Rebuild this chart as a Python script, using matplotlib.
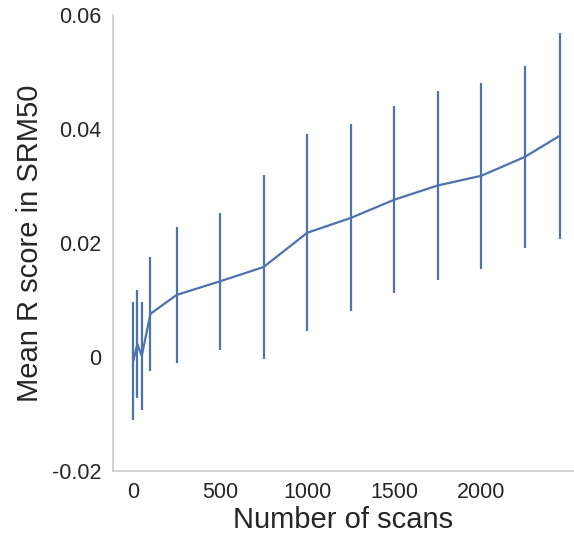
import matplotlib.pyplot as plt
import numpy as np

n_scans = [1, 25, 50, 100, 250, 500, 750, 1000, 1250, 1500, 1750, 2000, 2250, 2450]
mean_r = [-0.0007, 0.0023, 0.0002, 0.0076, 0.0109, 0.0133, 0.0158, 0.0218,
          0.0244, 0.0276, 0.0301, 0.0318, 0.0351, 0.0388]
err_r = [0.0103, 0.0094, 0.0095, 0.0100, 0.0120, 0.0120, 0.0162, 0.0173,
         0.0164, 0.0164, 0.0166, 0.0163, 0.0159, 0.0180]

x_ticks = [0, 500, 1000, 1500, 2000]
y_ticks = [-0.02, 0.0, 0.02, 0.04, 0.06]
y_labels = ["-0.02", "0", "0.02", "0.04", "0.06"]


def main() -> None:
    plt.rcParams["font.family"] = ["Liberation Sans", "DejaVu Sans"]

    fig = plt.figure(figsize=(5.74, 5.36), dpi=100)
    ax = fig.add_axes([0.196, 0.121, 0.804, 0.851])

    ax.errorbar(
        np.array(n_scans),
        np.array(mean_r),
        yerr=np.array(err_r),
        color="#4c72b0",
        linewidth=1.6,
        elinewidth=1.6,
        capsize=0,
    )

    ax.set_xlim(-118, 2533)
    ax.set_ylim(-0.02, 0.06)
    ax.set_xticks(x_ticks)
    ax.set_yticks(y_ticks)
    ax.set_yticklabels(y_labels)
    ax.tick_params(length=0, labelsize=15.5, labelcolor="#262626", pad=8)

    ax.set_xlabel("Number of scans", fontsize=21, color="#262626", labelpad=2)
    ax.set_ylabel("Mean R score in SRM50", fontsize=21, color="#262626", labelpad=6)

    for side in ["top", "right"]:
        ax.spines[side].set_visible(False)
    for side in ["left", "bottom"]:
        ax.spines[side].set_color("#cccccc")
        ax.spines[side].set_linewidth(1.2)

    fig.savefig("out.png", dpi=100)
    plt.close(fig)


if __name__ == "__main__":
    main()
